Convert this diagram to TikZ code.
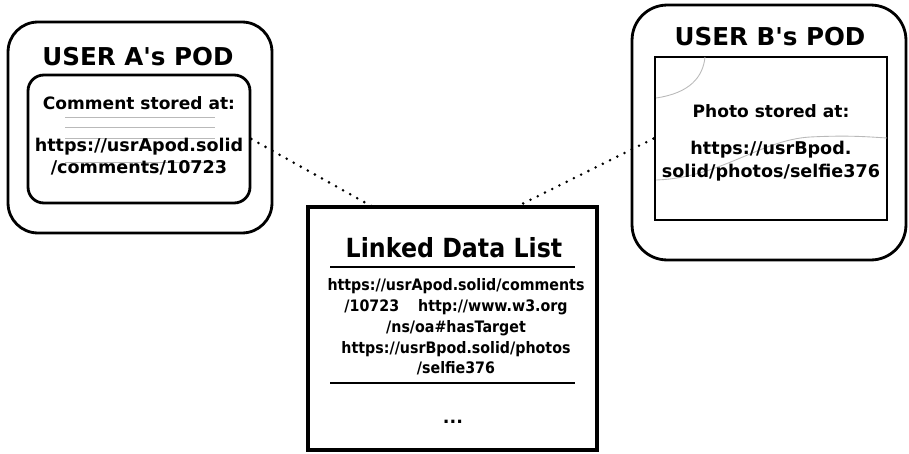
\documentclass[tikz,border=0pt]{standalone}
\usepackage{fontspec}
\setmainfont{DejaVu Sans}
\newfontfamily\narrowfont[FakeStretch=0.9]{DejaVu Sans}
\usetikzlibrary{positioning}
\tikzset{
  pod/.style={draw,line width=1.6pt,inner sep=0pt},
  podtitle/.style={font=\fontsize{14}{16}\selectfont\bfseries},
  stored/.style={font=\fontsize{9.7}{12.5}\selectfont\bfseries,align=center,inner sep=0pt},
  listtext/.style={font=\narrowfont\fontsize{9}{11.8}\selectfont\bfseries,align=center,inner sep=0pt},
  link/.style={line width=1.6pt,line cap=round,dash pattern=on 0pt off 4.6pt},
  ghost/.style={gray!55,line width=0.5pt}
}
\begin{document}
\begin{tikzpicture}[x=0.02cm,y=-0.02cm]
  \useasboundingbox (0,0) rectangle (909,453);
  % user A
  \node [pod,rounded corners=17pt,minimum width=5.28cm,minimum height=4.22cm] (podA) at (140,127.5) {};
  \node [podtitle] (titleA) at (138,57) {USER A\textquotesingle s POD};
  \node [pod,rounded corners=9pt,minimum width=4.44cm,minimum height=2.56cm] (boxA) at (139,139) {};
  \draw [ghost] (65,117) -- (215,117);
  \draw [ghost] (65,127) -- (215,127);
  \draw [ghost] (65,138) -- (215,138);
  \draw [ghost] (65,162) -- (215,162);
  \node [stored] (commentA) at (139,103) {Comment stored at:};
  \node [stored,font=\fontsize{10}{12.5}\selectfont\bfseries] (urlA) at (139,157) {https://usrApod.solid\\/comments/10723};
  % user B
  \node [pod,rounded corners=20pt,minimum width=5.48cm,minimum height=5.1cm] (podB) at (769,132.5) {};
  \node [podtitle] (titleB) at (770,37) {USER B\textquotesingle s POD};
  \node [pod,minimum width=4.64cm,minimum height=3.26cm] (boxB) at (771,138.5) {};
  \draw [ghost] (656,98) .. controls (690,93) and (703,77) .. (705,57);
  \draw [ghost] (656,180) .. controls (720,178) and (760,140) .. (810,137)
    .. controls (850,135) and (870,137) .. (887,138);
  \node [stored] (photoB) at (771,111) {Photo stored at:};
  \node [stored,font=\fontsize{10}{13}\selectfont\bfseries] (urlB) at (771,161) {https://usrBpod.\\solid/photos/selfie376};
  % linked data list
  \node [pod,line width=2pt,minimum width=5.78cm,minimum height=4.86cm] (ldl) at (452.5,328.5) {};
  \node [font=\narrowfont\fontsize{15}{18}\selectfont\bfseries] (ldlTitle) at (454,248) {Linked Data List};
  \draw [line width=0.7pt] (330,267) -- (575,267);
  \node [listtext] (triple) at (456,327)
    {https://usrApod.solid/comments\\/10723\hspace{1.2em}http://www.w3.org\\/ns/oa\#hasTarget\\https://usrBpod.solid/photos\\/selfie376};
  \draw [line width=0.7pt] (330,383) -- (575,383);
  \node [listtext,font=\fontsize{10}{12}\selectfont\bfseries] (more) at (453,422) {...};
  % links
  \coordinate (ldlA) at (373,207);
  \coordinate (ldlB) at (516,207);
  \draw [link] (boxA.east) -- (ldlA);
  \draw [link] (ldlB) -- (boxB.west);
\end{tikzpicture}
\end{document}
